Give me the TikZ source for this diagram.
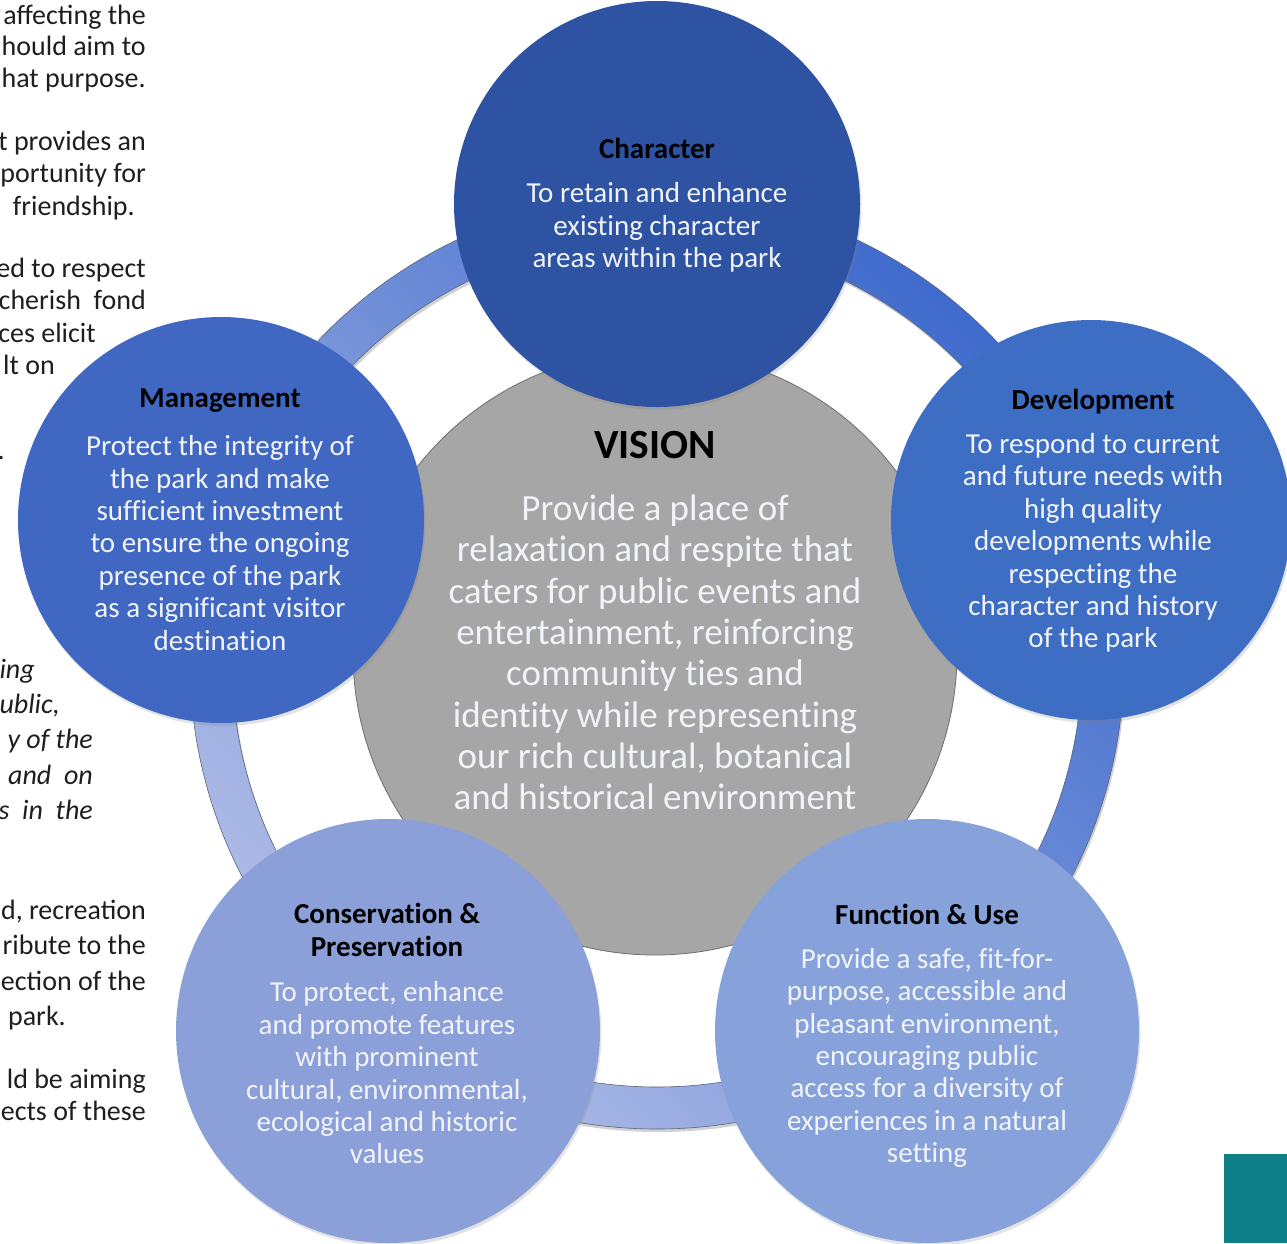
\documentclass[tikz,border=0pt]{standalone}
\usepackage{fontspec}
\setmainfont{Carlito}
\newfontfamily\diagfont[Ligatures=NoCommon]{Carlito}
\usetikzlibrary{shadows}

\definecolor{charblue}{HTML}{2D53A2}
\definecolor{midblue}{HTML}{4068C2}
\definecolor{paleblue}{HTML}{8B9FD9}
\definecolor{ringdark}{HTML}{3F6BCD}
\definecolor{ringlight}{HTML}{AEBBE6}
\definecolor{ringedge}{HTML}{5A6478}
\definecolor{visiongrey}{HTML}{A6A6A6}
\definecolor{greyedge}{HTML}{6E6E6E}
\definecolor{bodywhite}{HTML}{F1F3F8}
\definecolor{pagetext}{HTML}{1E1E1E}
\definecolor{tabteal}{HTML}{0E8088}

\begin{document}
\begin{tikzpicture}[x=1pt,y=-1pt,
  disc/.style={circle, inner sep=0pt, minimum size=406pt,
    drop shadow={shadow xshift=1.5pt, shadow yshift=-3pt, opacity=0.22}},
  bigdisc/.style={disc, minimum size=424pt},
  ttl/.style={font=\diagfont\fontsize{29}{32.4}\selectfont\bfseries, text=black, align=center, inner sep=0pt},
  body/.style={font=\diagfont\fontsize{29}{32.4}\selectfont, text=bodywhite, align=center, inner sep=0pt},
  page/.style={font=\fontsize{28}{32}\selectfont, text=pagetext, inner sep=0pt, anchor=base east},
  pageit/.style={page, font=\fontsize{28}{32}\selectfont\itshape},
]
\useasboundingbox (0,0) rectangle (1287,1243);
\begin{scope}
\clip (0,0) rectangle (1287,1243);

% fragments of the surrounding page text
\node[page] (p1)  at (146,24)  {affecting the};
\node[page] (p2)  at (146,55)  {hould aim to};
\node[page] (p3)  at (146,87)  {hat purpose.};
\node[page] (p4)  at (146,150) {t provides an};
\node[page] (p5)  at (146,182) {portunity for};
\node[page] (p6)  at (135,215) {friendship.};
\node[page] (p7)  at (146,277) {ed to respect};
\node[page] (p8)  at (146,309) {cherish\ \ fond};
\node[page] (p9)  at (96,342)  {ces elicit};
\node[page] (p10) at (55,374)  {lt on};
\node[page] (p11) at (5,459)   {.};
\node[pageit] (i1) at (35,678) {ing};
\node[pageit] (i2) at (60,713) {ublic,};
\node[pageit] (i3) at (93,748) {y of the};
\node[pageit] (i4) at (93,784) {and\ \ on};
\node[pageit] (i5) at (93,819) {s\ \ in\ \ the};
\node[page] (q1) at (146,919)  {d, recreation};
\node[page] (q2) at (146,954)  {ribute to the};
\node[page] (q3) at (146,990)  {ection of the};
\node[page] (q4) at (66,1025)  {park.};
\node[page] (q5) at (146,1088) {ld be aiming};
\node[page] (q6) at (146,1120) {ects of these};

% connecting ring
\fill[black, opacity=0.18, even odd rule, xshift=1.5pt, yshift=-3pt]
  (657,662) circle[radius=467pt] (657,662) circle[radius=425pt];
\path[even odd rule, top color=ringdark, bottom color=ringlight, shading angle=-45]
  (657,662) circle[radius=467pt] (657,662) circle[radius=425pt];
\draw[ringedge, line width=0.6pt]
  (657,662) circle[radius=467pt] (657,662) circle[radius=425pt];

% central vision disc
\node[circle, inner sep=0pt, minimum size=604pt, fill=visiongrey,
      draw=greyedge, line width=0.8pt] (vision) at (655,653) {};

% the five themes
\node[disc, fill=charblue] (character)    at (657,204)  {};
\node[disc, fill=midblue]  (management)   at (221,520)  {};
\node[disc, minimum size=400pt, fill=midblue!96!cyan]  (development)  at (1091,520) {};
\node[bigdisc, fill=paleblue] (conservation) at (388,1031) {};
\node[bigdisc, fill=paleblue!97!cyan] (function)     at (927,1031) {};

% vision text
\node[inner sep=0pt, font=\diagfont\fontsize{41.5}{46}\selectfont\bfseries, text=black] (visiontitle) at (655,445) {VISION};
\node[inner sep=0pt, align=center, text=bodywhite, font=\diagfont\fontsize{37}{41.3}\selectfont] (visionbody) at (655,652.5)
  {Provide a place of\\relaxation and respite that\\caters for public events and\\entertainment, reinforcing\\community ties and\\identity while representing\\our rich cultural, botanical\\and historical environment};

% theme texts
\node[ttl] (chart) at (657,148) {Character};
\node[body] (charb) at (657,227.5) {To retain and enhance\\existing character\\areas within the park};

\node[ttl] (mant) at (220,401) {Management};
\node[body] (manb) at (220,543) {Protect the integrity of\\the park and make\\sufficient investment\\to ensure the ongoing\\presence of the park\\as a significant visitor\\destination};

\node[ttl] (devt) at (1093,402) {Development};
\node[body] (devb) at (1093,543) {To respond to current\\and future needs with\\high quality\\developments while\\respecting the\\character and history\\of the park};

\node[ttl] (cont) at (387,930) {Conservation \&\\Preservation};
\node[body] (conb) at (387,1073) {To protect, enhance\\and promote features\\with prominent\\cultural, environmental,\\ecological and historic\\values};

\node[ttl] (funt) at (927,914) {Function \& Use};
\node[body] (funb) at (927,1058) {Provide a safe, fit-for-\\purpose, accessible and\\pleasant environment,\\encouraging public\\access for a diversity of\\experiences in a natural\\setting};

% page tab
\node[fill=tabteal, inner sep=0pt, minimum width=63pt, minimum height=89pt, anchor=north west] (tab) at (1224,1154) {};
\end{scope}
\end{tikzpicture}
\end{document}
